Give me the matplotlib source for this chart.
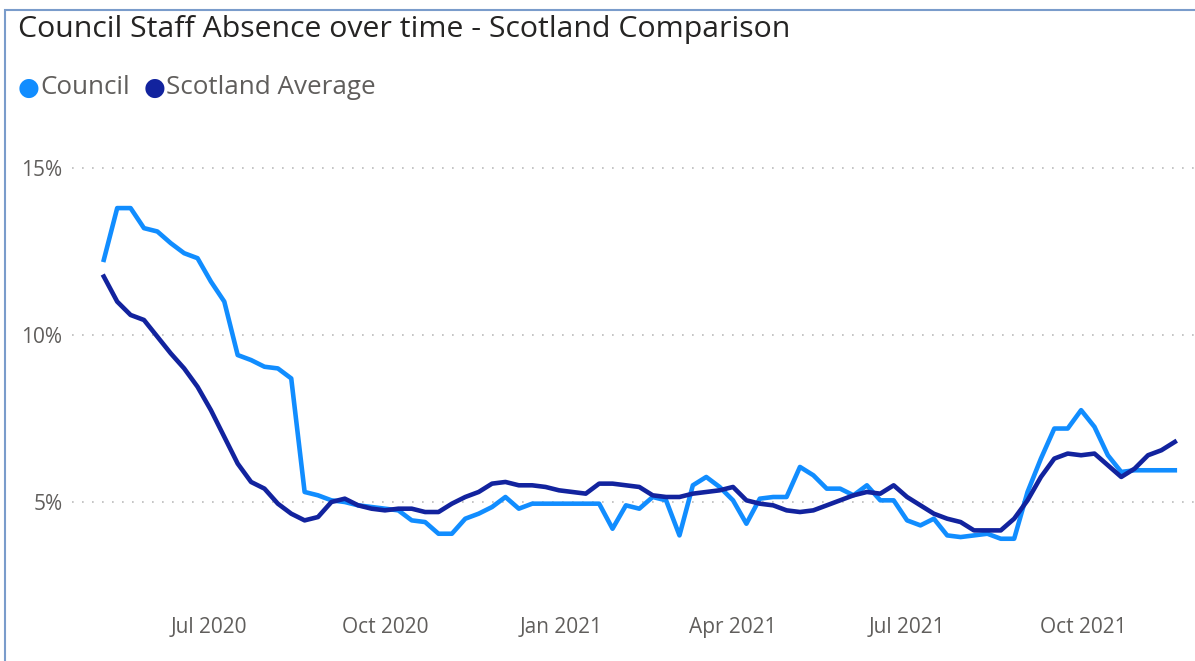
import matplotlib.pyplot as plt
import matplotlib.dates as mdates
import pandas as pd
from matplotlib.patches import Rectangle
from matplotlib.ticker import FixedLocator, FuncFormatter

# weekly absence rates (%)
weeks = pd.date_range("2020-05-07", periods=81, freq="7D")

council = [12.25, 13.8, 13.8, 13.2, 13.1, 12.75, 12.45, 12.3, 11.6, 11.0,
           9.4, 9.25, 9.05, 9.0, 8.7, 5.3, 5.2, 5.05, 5.0, 4.9,
           4.85, 4.8, 4.75, 4.45, 4.4, 4.05, 4.05, 4.5, 4.65, 4.85,
           5.15, 4.8, 4.95, 4.95, 4.95, 4.95, 4.95, 4.95, 4.2, 4.9,
           4.8, 5.15, 5.05, 4.0, 5.5, 5.75, 5.45, 5.05, 4.35, 5.1,
           5.15, 5.15, 6.05, 5.8, 5.4, 5.4, 5.2, 5.5, 5.05, 5.05,
           4.45, 4.3, 4.5, 4.0, 3.95, 4.0, 4.05, 3.9, 3.9, 5.3,
           6.3, 7.2, 7.2, 7.75, 7.25, 6.4, 5.9, 5.95, 5.95, 5.95,
           5.95]

scotland = [11.75, 11.0, 10.6, 10.45, 9.95, 9.45, 9.0, 8.45, 7.75, 6.95,
            6.15, 5.6, 5.4, 4.95, 4.65, 4.45, 4.55, 5.0, 5.1, 4.9,
            4.8, 4.75, 4.8, 4.8, 4.7, 4.7, 4.95, 5.15, 5.3, 5.55,
            5.6, 5.5, 5.5, 5.45, 5.35, 5.3, 5.25, 5.55, 5.55, 5.5,
            5.45, 5.2, 5.15, 5.15, 5.25, 5.3, 5.35, 5.45, 5.05, 4.95,
            4.9, 4.75, 4.7, 4.75, 4.9, 5.05, 5.2, 5.3, 5.25, 5.5,
            5.15, 4.9, 4.65, 4.5, 4.4, 4.15, 4.15, 4.15, 4.5, 5.05,
            5.75, 6.3, 6.45, 6.4, 6.45, 6.1, 5.75, 6.0, 6.4, 6.55,
            6.8]

series_names = ["Council", "Scotland Average"]
series_colors = ["#118DFF", "#12239E"]
y_ticks = [5, 10, 15]
x_ticks = ["2020-07-01", "2020-10-01", "2021-01-01", "2021-04-01", "2021-07-01", "2021-10-01"]

plt.rcParams['font.family'] = ['Open Sans', 'DejaVu Sans']

fig = plt.figure(figsize=(11.95, 6.61), dpi=100)
W, H = 1195, 661

# visual frame (left + top edge visible)
fig.patches.append(Rectangle((5 / W, -0.1), 1.2, (H - 10) / H + 0.1, transform=fig.transFigure,
                             fill=False, edgecolor="#7A9CCB", linewidth=1.5))

ax = fig.add_axes([72 / W, 1 - 585.5 / H, (W - 72) / W, (585.5 - 141.3) / H])

ax.plot(weeks, council, color=series_colors[0], lw=3.3, solid_joinstyle="round", zorder=3)
ax.plot(weeks, scotland, color=series_colors[1], lw=3.3, solid_joinstyle="round", zorder=4)

ax.set_ylim(2.5, 15.8)
x0 = mdates.date2num(pd.Timestamp("2020-07-01")) - 137 / 1.9125
x1 = mdates.date2num(pd.Timestamp("2021-10-01")) + 112 / 1.9125
ax.set_xlim(x0, x1)

ax.yaxis.set_major_locator(FixedLocator(y_ticks))
ax.yaxis.set_major_formatter(FuncFormatter(lambda v, p: f"{v:.0f}%"))
ax.set_xticks([mdates.date2num(pd.Timestamp(d)) for d in x_ticks])
ax.xaxis.set_major_formatter(mdates.DateFormatter("%b %Y"))

ax.tick_params(length=0, labelsize=15, labelcolor="#605E5C")
ax.tick_params(axis="x", pad=23)
ax.tick_params(axis="y", pad=7)
for s in ax.spines.values():
    s.set_visible(False)
ax.grid(axis="y", linestyle=(0, (1, 5)), color="#BBBBBB", linewidth=1.2)
ax.set_axisbelow(True)

fig.text(18 / W, 1 - 30 / H, "Council Staff Absence over time - Scotland Comparison",
         fontsize=21.8, color="#252423", va="center", ha="left")

# legend
lx = 29
for name, c in zip(series_names, series_colors):
    fig.text(lx / W, 1 - 88 / H, "\u25CF", color=c, fontsize=18, va="center", ha="center",
             family=["DejaVu Sans"])
    t = fig.text((lx + 11) / W, 1 - 88 / H, name, color="#605E5C", fontsize=18.7,
                 va="center", ha="left")
    fig.canvas.draw()
    bb = t.get_window_extent()
    lx = bb.x1 + 25

fig.savefig("out.png", dpi=100)
